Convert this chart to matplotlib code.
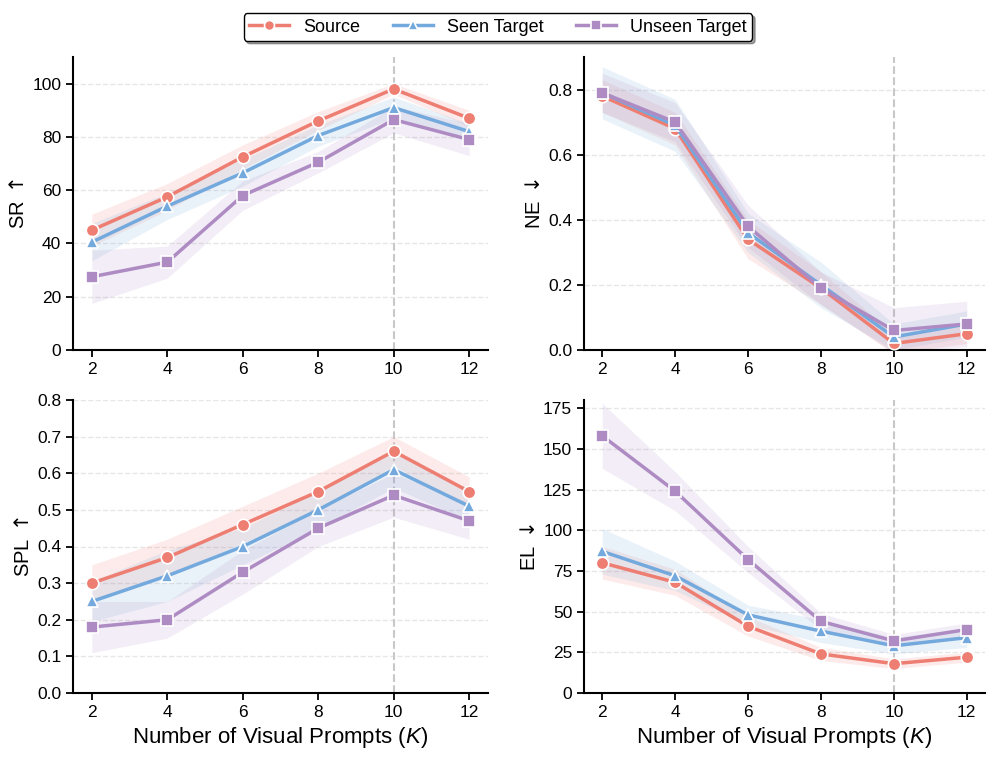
import numpy as np
import matplotlib
matplotlib.use('Agg')
import matplotlib.pyplot as plt

plt.rcParams['font.family'] = ['Liberation Sans', 'DejaVu Sans']
plt.rcParams['mathtext.fontset'] = 'custom'
plt.rcParams['mathtext.it'] = 'Liberation Sans:italic'
plt.rcParams['mathtext.rm'] = 'DejaVu Sans'

K = [2, 4, 6, 8, 10, 12]
names = ['Source', 'Seen Target', 'Unseen Target']
colors = ['#EE7D72', '#74A9DD', '#AE8CC3']
markers = ['o', '^', 's']

# SR
sr = [[45, 57.5, 72.5, 86, 98, 87],
      [40.5, 54, 66.5, 80.5, 91, 82],
      [27.5, 33, 58, 70.5, 86.5, 79]]
sr_err = [[6, 5, 4.5, 3.5, 2, 3],
          [7, 5, 5, 4, 4, 3],
          [10, 6, 5.5, 4, 5, 6]]
# NE
ne = [[0.78, 0.68, 0.34, 0.19, 0.02, 0.05],
      [0.79, 0.69, 0.36, 0.20, 0.04, 0.08],
      [0.79, 0.70, 0.38, 0.19, 0.06, 0.08]]
ne_err = [[0.05, 0.05, 0.06, 0.05, 0.03, 0.03],
          [0.08, 0.08, 0.06, 0.07, 0.04, 0.04],
          [0.06, 0.06, 0.065, 0.05, 0.07, 0.07]]
# SPL
spl = [[0.30, 0.37, 0.46, 0.55, 0.66, 0.55],
       [0.25, 0.32, 0.40, 0.50, 0.61, 0.51],
       [0.18, 0.20, 0.33, 0.45, 0.54, 0.47]]
spl_err = [[0.05, 0.05, 0.05, 0.05, 0.04, 0.04],
           [0.055, 0.07, 0.05, 0.05, 0.05, 0.04],
           [0.07, 0.05, 0.06, 0.05, 0.06, 0.05]]
# EL
el = [[80, 68, 41, 24, 18, 22],
      [87, 72, 48, 38, 29, 34],
      [158, 124, 82, 44, 32, 39]]
el_err = [[10, 8, 6, 4, 3, 3],
          [14, 9, 6, 7, 5, 6],
          [20, 12, 8, 5, 4, 4]]

panels = [
    (sr, sr_err, 'SR', r'$\uparrow$', (0, 110), [0, 20, 40, 60, 80, 100]),
    (ne, ne_err, 'NE', r'$\downarrow$', (0, 0.9), [0.0, 0.2, 0.4, 0.6, 0.8]),
    (spl, spl_err, 'SPL', r'$\uparrow$', (0, 0.8), [0.0, 0.1, 0.2, 0.3, 0.4, 0.5, 0.6, 0.7, 0.8]),
    (el, el_err, 'EL', r'$\downarrow$', (0, 180), [0, 25, 50, 75, 100, 125, 150, 175]),
]

fig = plt.figure(figsize=(9.96, 7.63), dpi=100)
boxes = [(73, 57, 488, 350), (584, 57, 985, 350),
         (73, 400, 488, 693), (584, 400, 985, 693)]
W, H = 996, 763

handles = []
for p, (data, err, lab, arrow, ylim, yt) in enumerate(panels):
    x0, y0, x1, y1 = boxes[p]
    ax = fig.add_axes([x0 / W, 1 - y1 / H, (x1 - x0) / W, (y1 - y0) / H])
    ax.axvline(10, color='#C8C8C8', ls='--', lw=1.5, zorder=1)
    for i in range(3):
        y = np.array(data[i])
        e = np.array(err[i])
        ax.fill_between(K, y - e, y + e, color=colors[i], alpha=0.15, lw=0, zorder=2)
        h, = ax.plot(K, y, color=colors[i], marker=markers[i], lw=2.5, ms=9,
                     mec='white', mew=1.2, zorder=3, label=names[i])
        if p == 0:
            handles.append(h)
    ax.set_xlim(1.5, 12.5)
    ax.set_ylim(*ylim)
    ax.set_xticks(K)
    ax.set_yticks(yt)
    ax.set_ylabel(lab + ' ' + arrow, fontsize=14.5, labelpad=3)
    ax.grid(axis='y', ls='--', color='#E6E6E6', lw=1)
    ax.set_axisbelow(True)
    ax.spines['top'].set_visible(False)
    ax.spines['right'].set_visible(False)
    ax.spines['left'].set_linewidth(1.5)
    ax.spines['bottom'].set_linewidth(1.5)
    ax.tick_params(labelsize=12.5, width=1.3, length=5)
    if p >= 2:
        ax.set_xlabel('Number of Visual Prompts ($K$)', fontsize=16)

fig.legend(handles=handles, loc='center', bbox_to_anchor=(0.5, 1 - 27 / H),
           ncol=3, fontsize=13, frameon=True, shadow=True, fancybox=True,
           edgecolor='black', handlelength=2.2, columnspacing=1.8,
           borderpad=0.3, markerscale=0.8)

fig.savefig('out.png', dpi=100)
